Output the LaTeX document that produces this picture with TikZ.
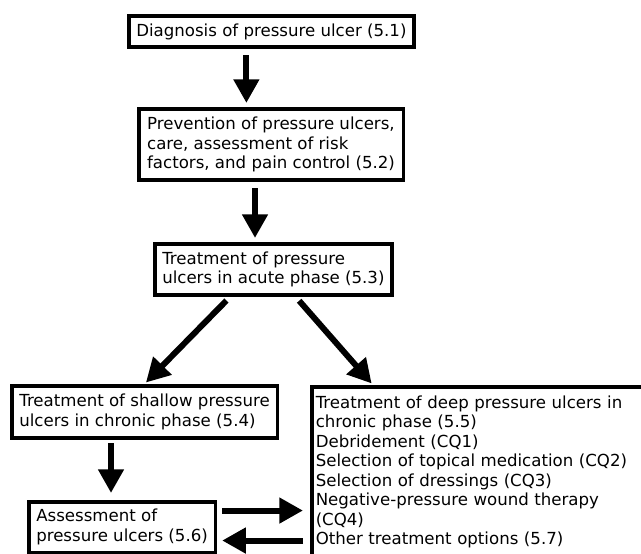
\documentclass[tikz,border=0pt]{standalone}
\usepackage{fontspec}
\setmainfont{DejaVu Sans}
\usetikzlibrary{arrows.meta}
\tikzstyle{every node}=[font=\fontsize{9.45}{11.1}\selectfont, align=left]
\tikzstyle{stage}=[draw, line width=2pt, anchor=north west, inner sep=1.5mm]
\tikzstyle{bigarrow}=[line width=3.4pt, -{Triangle[length=13.5pt,width=14pt]}]

\begin{document}
\begin{tikzpicture}[x=0.2mm, y=-0.2mm]
    \clip (0,0) rectangle (641,554);
    \node[stage, minimum width=56.9mm, minimum height=6.3mm] (diag) at (127,14)
        {Diagnosis of pressure ulcer (5.1)};
    \node[stage, minimum width=52.9mm, minimum height=14.3mm] (prev) at (137,107)
        {Prevention of pressure ulcers,\\care, assessment of risk\\factors, and pain control (5.2)};
    \node[stage, minimum width=46.3mm, minimum height=10.3mm] (acute) at (153,242)
        {Treatment of pressure\\ulcers in acute phase (5.3)};
    \node[stage, minimum width=53.1mm, minimum height=10.5mm] (shallow) at (10,384)
        {Treatment of shallow pressure\\ulcers in chronic phase (5.4)};
    \node[stage, minimum width=37.3mm, minimum height=9.9mm] (assess) at (27,500)
        {Assessment of\\pressure ulcers (5.6)};
    \node[stage, text width=80mm, inner xsep=0.8mm, inner ysep=1.8mm, text depth=40mm] (deep) at (310,385)
        {Treatment of deep pressure ulcers in\\chronic phase (5.5)\\Debridement (CQ1)\\Selection of topical medication (CQ2)\\Selection of dressings (CQ3)\\Negative-pressure wound therapy\\(CQ4)\\Other treatment options (5.7)};
    \draw[bigarrow, shorten <=1.2mm, shorten >=0.8mm] ([xshift=-5mm]diag.south) -- ([xshift=-5mm]diag.south |- prev.north);
    \draw[bigarrow, shorten <=1.2mm, shorten >=0.8mm] ([xshift=-3.2mm]prev.south) -- ([xshift=-3.2mm]prev.south |- acute.north);
    \draw[bigarrow, shorten <=1mm, shorten >=0.4mm] ([xshift=-8.7mm]acute.south) -- (shallow.north);
    \draw[bigarrow, shorten <=1mm, shorten >=0.4mm] ([xshift=4.5mm]acute.south) -- ([xshift=12.6mm]deep.north west);
    \draw[bigarrow, shorten <=0.6mm, shorten >=1.4mm] ([xshift=-6.7mm]shallow.south) -- ([xshift=-6.7mm]shallow.south |- assess.north);
    \draw[bigarrow, shorten <=1mm, shorten >=1.4mm] ([yshift=3.3mm]assess.east) -- ([yshift=3.3mm]assess.east -| deep.west);
    \draw[bigarrow, shorten <=1.4mm, shorten >=1mm] ([yshift=-2.7mm]assess.east -| deep.west) -- ([yshift=-2.7mm]assess.east);
\end{tikzpicture}
\end{document}
